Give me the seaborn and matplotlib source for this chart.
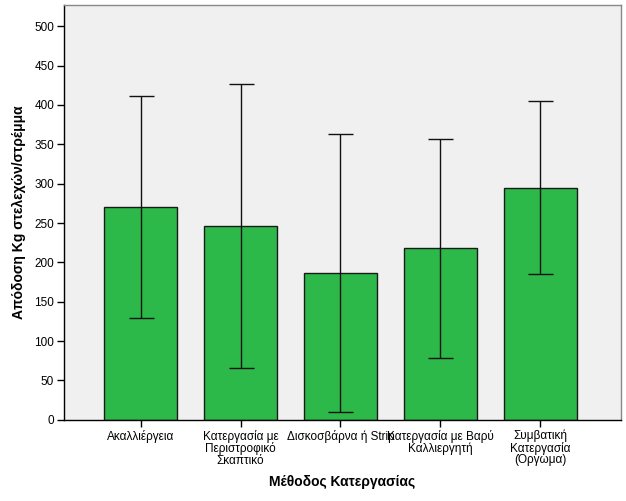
import seaborn as sns
import matplotlib.pyplot as plt
import pandas as pd

methods = ['Ακαλλιέργεια', 'Κατεργασία με\nΠεριστροφικό\nΣκαπτικό', 'Δισκοσβάρνα ή Strip',
           'Κατεργασία με Βαρύ\nΚαλλιεργητή', 'Συμβατική\nΚατεργασία\n(Όργωμα)']
mean_yield = [270, 246, 187, 218, 295]
ci_low = [129, 66, 10, 79, 185]
ci_high = [411, 427, 363, 357, 405]

df = pd.DataFrame({'method': methods, 'yield': mean_yield})

sns.set_style('white')
plt.rcParams['font.family'] = ['Liberation Sans', 'DejaVu Sans']
plt.rcParams['text.color'] = 'black'
plt.rcParams['axes.labelcolor'] = 'black'
plt.rcParams['xtick.color'] = 'black'
plt.rcParams['ytick.color'] = 'black'

fig = plt.figure(figsize=(6.26, 5.01), dpi=100)
ax = fig.add_axes([0.102, 0.162, 0.89, 0.828])
ax.set_facecolor('#f0f0f0')

sns.barplot(data=df, x='method', y='yield', color='#2db84a', saturation=1,
            width=0.73, edgecolor='#1a1a1a', linewidth=1, errorbar=None, ax=ax)

err = [[m - lo for m, lo in zip(mean_yield, ci_low)],
       [hi - m for m, hi in zip(mean_yield, ci_high)]]
ax.errorbar(range(len(methods)), mean_yield, yerr=err, fmt='none',
            ecolor='#111111', elinewidth=1, capsize=9, capthick=1)

ax.set_xlim(-0.77, 4.81)
ax.set_ylim(0, 527)
ax.set_yticks(range(0, 501, 50))
ax.tick_params(axis='both', direction='out', length=5, width=1, color='black',
               labelsize=8.5, left=True, bottom=True, pad=2)
ax.set_xticks(range(len(methods)))
ax.set_xticklabels(methods, linespacing=0.95)

for s in ['left', 'bottom']:
    ax.spines[s].set_color('black')
    ax.spines[s].set_linewidth(1)
for s in ['top', 'right']:
    ax.spines[s].set_color('#888888')
    ax.spines[s].set_linewidth(1)

ax.set_ylabel('Απόδοση Kg στελεχών/στρέμμα', fontsize=10, fontweight='bold', labelpad=6)
ax.set_xlabel('Μέθοδος Κατεργασίας', fontsize=10, fontweight='bold', labelpad=6)

fig.savefig('out.png', dpi=100)
